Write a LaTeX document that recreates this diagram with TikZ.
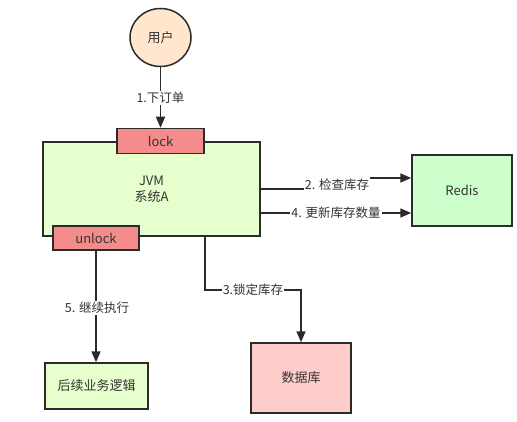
\documentclass[tikz,border=0pt]{standalone}
\usepackage{fontspec}
\setmainfont{Noto Sans CJK SC}
\usetikzlibrary{arrows.meta,shapes.geometric}
\definecolor{ink}{HTML}{2B2B2B}
\definecolor{txt}{HTML}{333333}
\definecolor{peach}{HTML}{FFE6CC}
\definecolor{lockred}{HTML}{F58C8C}
\definecolor{lgreen}{HTML}{E6FFCC}
\definecolor{mgreen}{HTML}{CCFFCC}
\definecolor{lpink}{HTML}{FFCCCC}
\tikzset{
  box/.style={draw=ink,line width=1.5pt,rectangle,inner sep=0pt,text=txt,font=\fontsize{13}{17}\selectfont,align=center},
  lbl/.style={fill=white,inner sep=1pt,text=txt,font=\fontsize{12.5}{15}\selectfont},
  conn/.style={draw=ink,line width=1.6pt},
  arr/.style={conn,-{Triangle[length=11pt,width=9pt]}}
}
\begin{document}
\begin{tikzpicture}[x=1pt,y=-1pt]
\useasboundingbox[fill=white] (0,0) rectangle (517,422);
\node[box,ellipse,fill=peach,minimum width=61pt,minimum height=58pt] (user) at (160.5,37.5) {用户};
\node[box,fill=lgreen,minimum width=217pt,minimum height=94pt] (jvm) at (151.5,189) {JVM\\[-1pt]系统A};
\node[box,fill=lockred,minimum width=87pt,minimum height=25pt] (lock) at (160.5,141) {lock};
\node[box,fill=lockred,minimum width=86pt,minimum height=24pt] (unlock) at (96,238) {unlock};
\node[box,fill=mgreen,minimum width=100pt,minimum height=71pt] (redis) at (462,190.5) {Redis};
\node[box,fill=lpink,minimum width=100pt,minimum height=70pt] (db) at (301,378) {数据库};
\node[box,fill=lgreen,minimum width=103pt,minimum height=46pt] (next) at (96.5,386) {后续业务逻辑};
% 1
\draw[arr] (user.south) -- (lock.north);
\node[lbl] (l1) at (160.5,98) {1.下订单};
% 2
\node[lbl,fill=none] (l2) at (337,185) {2. 检查库存};
\coordinate (a2) at (jvm.east);
\coordinate (b2) at (412,178);
\draw[conn] (a2) -- (a2 -| l2.west);
\draw[arr] (b2 -| l2.east) -- (b2 -| redis.west);
% 4
\coordinate (a4) at (260,213);
\draw[arr] (a4) -- (a4 -| redis.west);
\node[lbl] (l4) at (336,213) {4. 更新库存数量};
% 3
\coordinate (a3) at (205,236);
\coordinate (c3) at (205,290);
\draw[arr] (a3) -- (c3) -- (c3 -| db.north) -- (db.north);
\node[lbl] (l3) at (253,290) {3.锁定库存};
% 5
\draw[arr] (unlock.south) -- (unlock.south |- next.north);
\node[lbl] (l5) at (97,308) {5. 继续执行};
\end{tikzpicture}
\end{document}
